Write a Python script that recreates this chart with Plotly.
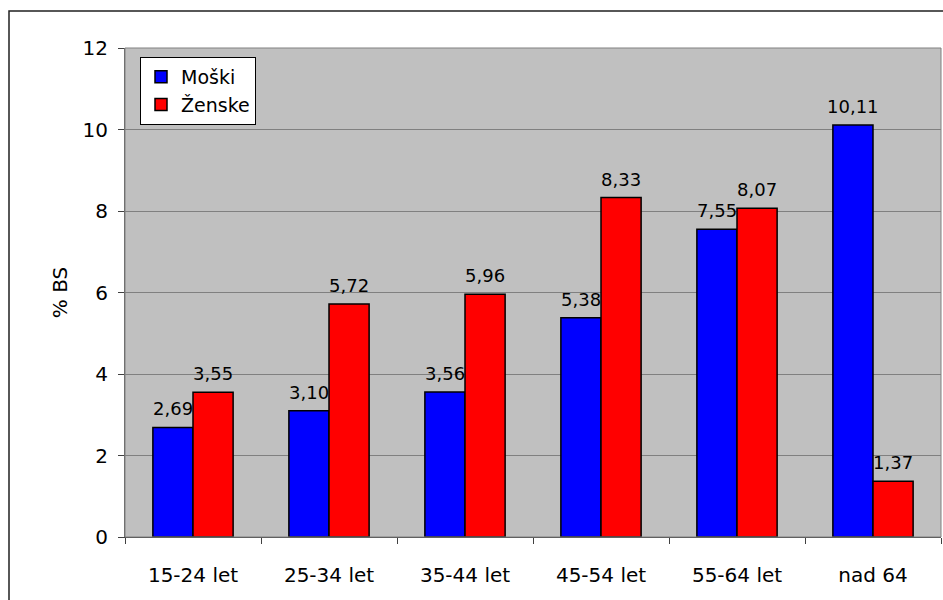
import plotly.graph_objects as go

categories = ["15-24 let", "25-34 let", "35-44 let", "45-54 let", "55-64 let", "nad 64"]
moski = [2.69, 3.10, 3.56, 5.38, 7.55, 10.11]
zenske = [3.55, 5.72, 5.96, 8.33, 8.07, 1.37]
y_ticks = [0, 2, 4, 6, 8, 10, 12]

FONT = "DejaVu Sans"
LBL = 18
TXT = 20


def fmt(v):
    return f"{v:.2f}".replace(".", ",")


fig = go.Figure()
for name, vals, col in [("Moški", moski, "#0000FF"), ("Ženske", zenske, "#FF0000")]:
    fig.add_trace(go.Bar(
        x=categories, y=vals, name=name,
        marker=dict(color=col, line=dict(color="black", width=1.5)),
        hoverinfo="x+y+name",
    ))

annotations = []
for vals, dx in [(moski, -20), (zenske, 20)]:
    for c, v in zip(categories, vals):
        annotations.append(dict(
            x=c, y=v, xref="x", yref="y", text=fmt(v), showarrow=False,
            xanchor="center", yanchor="bottom", xshift=dx, yshift=6,
            font=dict(family=FONT, size=LBL, color="black"),
        ))

fig.update_layout(
    width=943, height=600,
    margin=dict(l=125, r=2, t=48, b=63),
    paper_bgcolor="white", plot_bgcolor="#C0C0C0",
    separators=", ",
    barmode="group", bargap=0.41, bargroupgap=0,
    font=dict(family=FONT, size=TXT, color="black"),
    showlegend=True,
    legend=dict(
        x=(140 - 125) / 816, y=(537 - 57) / 489, xanchor="left", yanchor="top",
        bgcolor="white", bordercolor="black", borderwidth=1,
        font=dict(family=FONT, size=19, color="black"),
        itemwidth=30, tracegroupgap=0,
    ),
    xaxis=dict(
        type="category", tickson="boundaries", ticks="outside", ticklen=6,
        tickcolor="#404040", showline=True, linecolor="#404040", linewidth=1,
        showgrid=False, ticklabelstandoff=20,
        tickfont=dict(family=FONT, size=TXT, color="black"),
    ),
    yaxis=dict(
        range=[0, 12], tickvals=y_ticks, ticks="outside", ticklen=6,
        tickcolor="#404040", showline=True, linecolor="#606060", linewidth=1,
        showgrid=True, gridcolor="#808080", gridwidth=1, zeroline=False,
        ticklabelstandoff=6,
        tickfont=dict(family=FONT, size=TXT, color="black"),
        title=dict(text="% BS", font=dict(family=FONT, size=TXT, color="black"), standoff=9),
    ),
    annotations=annotations,
    shapes=[
        dict(type="rect", xref="paper", yref="paper", x0=0, x1=1, y0=0, y1=1,
             line=dict(color="#808080", width=1), layer="above"),
        dict(type="rect", xref="paper", yref="paper",
             x0=(9 - 125) / 816, x1=1.1, y0=-0.3, y1=(537 - 11) / 489,
             line=dict(color="#202020", width=1.5), layer="below"),
    ],
)

fig.write_html("out.html", config={"displayModeBar": False},
               post_script="document.body.style.margin='0';")
